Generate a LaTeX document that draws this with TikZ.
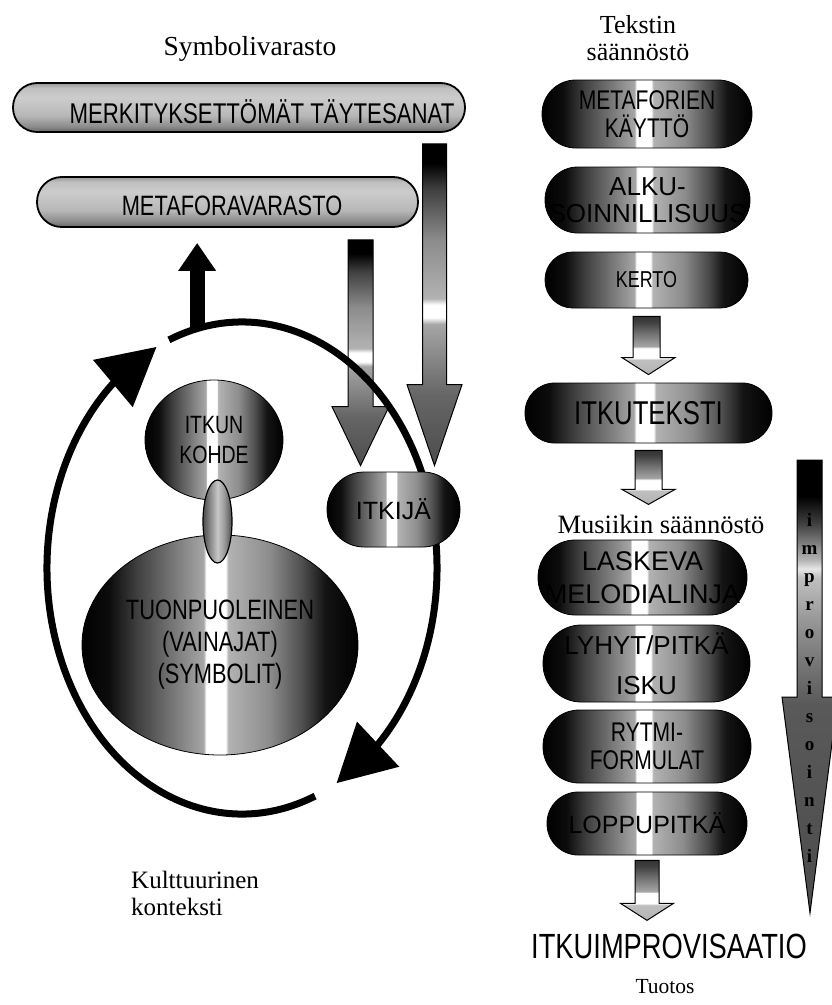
\documentclass[tikz,border=0pt]{standalone}
\usepackage{fontspec}
\setmainfont{Liberation Serif}
\newfontfamily\capsfont[FakeStretch=0.78]{Liberation Sans}
\newfontfamily\plainfont{Liberation Sans}
\usetikzlibrary{arrows.meta,bending,calc,shapes.geometric}

% shadings (25bp..75bp cover the shaded path)
\pgfdeclarehorizontalshading{pillshade}{100bp}{%
  color(0bp)=(black); color(25bp)=(black); color(30bp)=(black!95);
  color(35bp)=(black!75); color(41bp)=(black!55); color(47bp)=(black!35);
  color(47.5bp)=(white); color(51bp)=(white); color(51.5bp)=(black!30);
  color(59bp)=(black!45); color(65bp)=(black!70); color(69bp)=(black!92);
  color(75bp)=(black); color(100bp)=(black)}
\pgfdeclareverticalshading{barshade}{100bp}{%
  color(0bp)=(black!60); color(25bp)=(black!60); color(31bp)=(black!45);
  color(42bp)=(black!28); color(60bp)=(black!20); color(70bp)=(black!25);
  color(75bp)=(black!40); color(100bp)=(black!40)}
\pgfdeclarehorizontalshading{linkshade}{100bp}{%
  color(0bp)=(black!70); color(25bp)=(black!70); color(38bp)=(black!45);
  color(50bp)=(black!22); color(62bp)=(black!40); color(75bp)=(black!70);
  color(100bp)=(black!70)}
\pgfdeclareverticalshading{dropshade}{100bp}{%
  color(0bp)=(black!70); color(25bp)=(black!70); color(36bp)=(black!60);
  color(47bp)=(black!35); color(48bp)=(white); color(50bp)=(white);
  color(51bp)=(black!30); color(60bp)=(black!45); color(68bp)=(black!75);
  color(72bp)=(black); color(100bp)=(black)}
\pgfdeclareverticalshading{hollowshade}{100bp}{%
  color(0bp)=(black!30); color(25bp)=(black!30); color(38bp)=(black!25);
  color(39bp)=(white); color(48bp)=(white); color(49bp)=(black!35);
  color(60bp)=(black!55); color(70bp)=(black!75); color(75bp)=(black!80);
  color(100bp)=(black!80)}
\pgfdeclareverticalshading{improshade}{100bp}{%
  color(0bp)=(black!70); color(25bp)=(black!70); color(48bp)=(black!65);
  color(56bp)=(black!45); color(62bp)=(black!25); color(63bp)=(black!10);
  color(64bp)=(black!30); color(68bp)=(black!75); color(71bp)=(black);
  color(100bp)=(black)}

\newcommand\capsat[2]{\capsfont\fontsize{#1}{#2}\selectfont}
\newcommand\plainat[2]{\plainfont\fontsize{#1}{#2}\selectfont}
\newcommand\serifat[2]{\fontsize{#1}{#2}\selectfont}

% shaded block arrow: shading, from, tip, shaft half width, head half width, head length
\newcommand\blockarrow[6]{%
  \shadedraw[shading=#1, line width=1pt] let \p1=(#2), \p2=(#3) in
    (\x1-#4,\y1) -- (\x1+#4,\y1) -- (\x1+#4,\y2+#6) -- (\x2+#5,\y2+#6)
    -- (\x2,\y2) -- (\x2-#5,\y2+#6) -- (\x1-#4,\y2+#6) -- cycle;}

\tikzset{
  pill/.style 2 args={rectangle, rounded corners=#2/2-0.3pt, minimum width=#1,
    minimum height=#2, inner sep=0pt, align=center, draw=black, line width=0.8pt,
    shading=pillshade},
  bar/.style 2 args={rectangle, rounded corners=#2/2-0.3pt, minimum width=#1,
    minimum height=#2, inner sep=0pt, draw=black, line width=1.8pt, shading=barshade},
  blob/.style 2 args={ellipse, minimum width=#1, minimum height=#2, inner sep=0pt,
    align=center, draw=black, line width=0.8pt, shading=pillshade},
  heading/.style={inner sep=0pt, align=center, font=\serifat{26pt}{27pt}},
  loopline/.style={line width=7pt, -{Triangle[length=57pt,width=60pt,flex]}},
  uparrow/.style={line width=15pt, -{Triangle[length=28pt,width=36pt]}, shorten >=15pt},
}

\begin{document}
\begin{tikzpicture}[x=1pt,y=1pt]
\useasboundingbox (0,0) rectangle (831,-1005);

% symbol store
\node[heading, anchor=base, font=\serifat{27.5pt}{29pt}] (symb) at (250,-55) {Symbolivarasto};
\node[bar={452pt}{49pt}] (merk) at (239,-107.5) {};
\node[inner sep=0pt, anchor=base, font=\capsat{28.5pt}{30pt}] (merktext) at (262,-123) {MERKITYKSETTÖMÄT TÄYTESANAT};
\node[bar={381pt}{50pt}] (metavar) at (227.5,-202) {};
\node[inner sep=0pt, anchor=base, font=\capsat{28pt}{30pt}] (metavartext) at (232,-215) {METAFORAVARASTO};

% weeper
\node[pill={133pt}{75pt}, draw=none] (itkija) at (393.5,-509.5) {};
\coordinate (aTip) at ([xshift=41pt,yshift=6pt]itkija.north);
\coordinate (aTop) at ([yshift=-11pt]aTip |- merk.south);
\coordinate (bTip) at ([xshift=-33pt,yshift=6pt]itkija.north);
\coordinate (bTop) at ([yshift=-12pt]bTip |- metavar.south);
\blockarrow{dropshade}{aTop}{aTip}{12pt}{27.5pt}{81pt}
\blockarrow{dropshade}{bTop}{bTip}{12.5pt}{28.5pt}{59pt}

% cultural cycle
\coordinate (loopc) at (242,-568);
\draw[loopline] ($(loopc)+(112:195pt and 246pt)$) arc[start angle=112, end angle=-61, x radius=195pt, y radius=246pt];
\draw[loopline] ($(loopc)+(-68:195pt and 246pt)$) arc[start angle=-68, end angle=-244, x radius=195pt, y radius=246pt];
\coordinate (upbase) at ($(loopc)+(103.3:195pt and 246pt)$);
\draw[uparrow] (upbase) -- (upbase |- metavar.south);

\node[blob={138pt}{120pt}, font=\capsat{25pt}{30pt}] (itkun) at (214,-440) {ITKUN\\KOHDE};
\node[blob={276pt}{220pt}, font=\capsat{28pt}{32pt}] (tuon) at (220,-645) {TUONPUOLEINEN\\(VAINAJAT)\\(SYMBOLIT)};
\node[ellipse, minimum width=29pt, minimum height=83pt, draw=black, line width=1.2pt, shading=linkshade] (link) at (217.5,-521.5) {};
\node[pill={133pt}{75pt}, font=\plainat{25pt}{27pt}] (itkija) at (393.5,-509.5) {ITKIJÄ};

\node[heading, align=left, anchor=north west, font=\serifat{25pt}{27pt}] (kult) at (131,-871) {Kulttuurinen\\konteksti};

% text rules
\node[heading] (tekstin) at (638,-38) {Tekstin\\säännöstö};
\node[pill={210pt}{68pt}, font=\capsat{27pt}{28pt}] (metaf) at (647,-114) {METAFORIEN\\KÄYTTÖ};
\node[pill={205pt}{66pt}, font=\plainat{26pt}{27pt}] (alku) at (647.5,-200) {ALKU-\\SOINNILLISUUS};
\node[pill={203pt}{56pt}, font=\capsat{23pt}{25pt}] (kerto) at (646.5,-280) {KERTO};
\node[pill={247pt}{60pt}, font=\capsat{33pt}{35pt}] (itkut) at (648.5,-413) {ITKUTEKSTI};
\blockarrow{hollowshade}{[yshift=-8pt]kerto.south}{[yshift=8pt]itkut.north}{13.5pt}{26.5pt}{17pt}

% music rules
\node[heading, anchor=base, font=\serifat{26.5pt}{27pt}] (musik) at (661,-533) {Musiikin säännöstö};
\coordinate (c2top) at ([yshift=-7pt]itkut.south);
\coordinate (c2tip) at ($(itkut.south |- musik.north)+(0,10pt)$);
\blockarrow{hollowshade}{c2top}{c2tip}{13.5pt}{26.5pt}{15pt}
\node[pill={209pt}{75pt}, font=\plainat{27pt}{33pt}] (laskeva) at (642.5,-577.5) {LASKEVA\\MELODIALINJA};
\node[pill={207pt}{77pt}, font=\plainat{26pt}{40pt}] (lyhyt) at (646.5,-663.5) {LYHYT/PITKÄ\\ISKU};
\node[pill={208pt}{73pt}, font=\capsat{27pt}{28pt}] (rytmi) at (647,-746.5) {RYTMI-\\FORMULAT};
\node[pill={200pt}{63pt}, font=\plainat{25pt}{27pt}] (loppu) at (647,-823.5) {LOPPUPITKÄ};

% product
\node[inner sep=0pt, anchor=base, font=\capsat{35pt}{37pt}] (impro) at (669,-958) {ITKUIMPROVISAATIO};
\coordinate (c3top) at ([yshift=-5pt]loppu.south);
\coordinate (c3tip) at ($(loppu.south |- impro.north)+(0,13pt)$);
\blockarrow{hollowshade}{c3top}{c3tip}{12pt}{26.5pt}{17pt}
\node[heading, anchor=base, font=\serifat{21.5pt}{22pt}] (tuotos) at (665,-993) {Tuotos};

% improvisation
\coordinate (imprTop) at (809.5,-460);
\coordinate (imprTip) at (810,-913);
\blockarrow{improshade}{imprTop}{imprTip}{12.5pt}{28pt}{216pt}
\node[inner sep=0pt, align=center, font=\bfseries\serifat{19pt}{28pt}] (imprword) at (809.5,-688) {i\\m\\p\\r\\o\\v\\i\\s\\o\\i\\n\\t\\i};
\end{tikzpicture}
\end{document}
